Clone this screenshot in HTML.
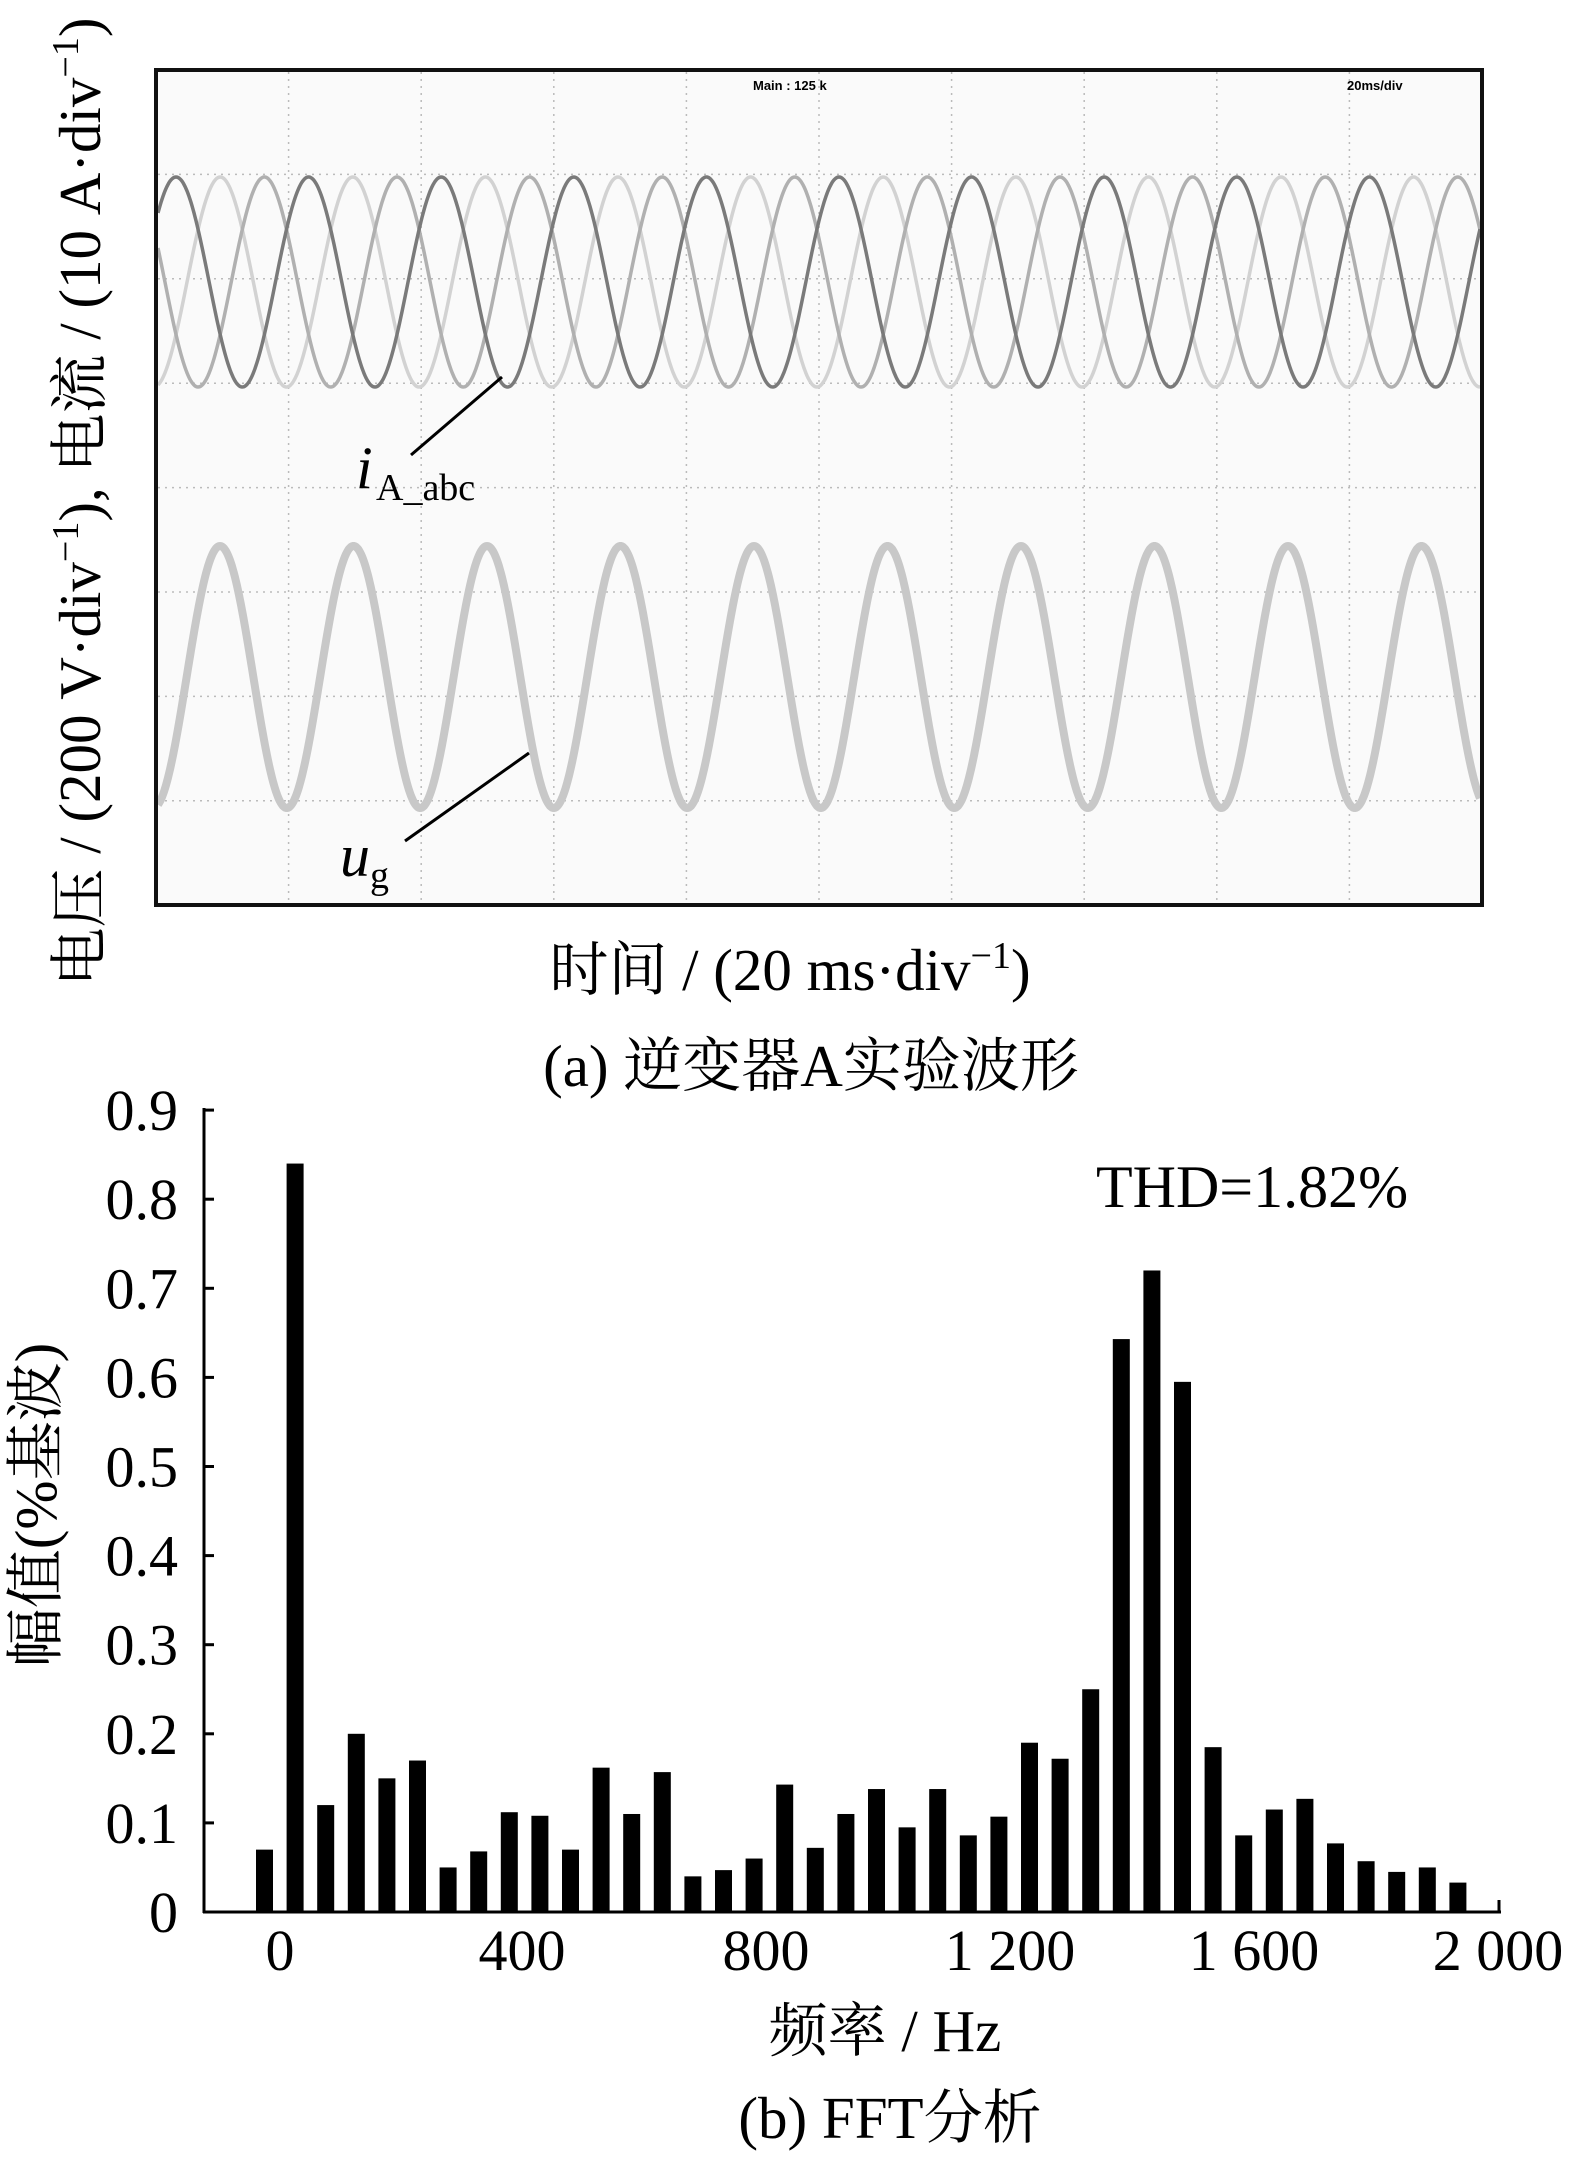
<!DOCTYPE html>
<html><head><meta charset="utf-8"><style>
html,body{margin:0;padding:0;background:#fff;}
svg{display:block;}
text{font-family:"Liberation Serif","Noto Serif CJK SC","Noto Sans CJK SC",serif;fill:#000;}
</style></head><body>
<svg id="s" width="1574" height="2162" viewBox="0 0 1574 2162" xmlns="http://www.w3.org/2000/svg">
<rect x="156" y="70" width="1326" height="835" fill="#fafafa"/>
<g id="grid" stroke="#bbb" stroke-width="1.5" stroke-dasharray="2,5"></g>
<g id="waves" fill="none"></g>
<rect x="156" y="70" width="1326" height="835" fill="none" stroke="#111" stroke-width="4"/>
<text x="753" y="90" font-size="13" font-weight="bold" style="font-family:'Liberation Sans',sans-serif">Main : 125 k</text>
<text x="1347" y="90" font-size="13" font-weight="bold" style="font-family:'Liberation Sans',sans-serif">20ms/div</text>
<line x1="411" y1="455" x2="502" y2="377" stroke="#000" stroke-width="3"/>
<text x="356" y="488" font-size="60" font-style="italic">i</text>
<text x="376" y="500" font-size="38">A_abc</text>
<line x1="405" y1="841" x2="529" y2="753" stroke="#000" stroke-width="3"/>
<text x="340" y="876" font-size="60" font-style="italic">u</text>
<text x="370" y="888" font-size="38">g</text>
<text transform="translate(100,502) rotate(-90)" text-anchor="middle" font-size="59">电压 / (200 V·div<tspan font-size="38" dy="-22">−1</tspan><tspan dy="22">), 电流 / (10 A·div</tspan><tspan font-size="38" dy="-22">−1</tspan><tspan dy="22">)</tspan></text>
<text x="790" y="990" text-anchor="middle" font-size="59">时间 / (20 ms·div<tspan font-size="38" dy="-22">−1</tspan><tspan dy="22">)</tspan></text>
<text x="811" y="1086" text-anchor="middle" font-size="59">(a)  逆变器A实验波形</text>
<g id="bars" fill="#000"></g>
<line x1="204" y1="1108" x2="204" y2="1913" stroke="#000" stroke-width="3"/>
<line x1="203" y1="1912" x2="1501" y2="1912" stroke="#000" stroke-width="3"/>
<line x1="1499" y1="1912" x2="1499" y2="1900" stroke="#000" stroke-width="3"/>
<g id="ylab" font-size="58" text-anchor="end"></g>
<g font-size="58" text-anchor="middle">
<text x="280" y="1970">0</text><text x="522" y="1970">400</text><text x="766" y="1970">800</text><text x="1010" y="1970">1 200</text><text x="1254" y="1970">1 600</text><text x="1498" y="1970">2 000</text>
</g>
<text x="1096" y="1207" font-size="60">THD=1.82%</text>
<text x="885" y="2051" text-anchor="middle" font-size="59">频率 / Hz</text>
<text x="890" y="2138" text-anchor="middle" font-size="59">(b)  FFT分析</text>
<text transform="translate(56,1505) rotate(-90)" text-anchor="middle" font-size="59">幅值(%基波)</text>
</svg>
<script>
var NS="http://www.w3.org/2000/svg";
function el(p,t,a){var e=document.createElementNS(NS,t);for(var k in a)e.setAttribute(k,a[k]);document.getElementById(p).appendChild(e);return e;}
for(var i=1;i<10;i++){var x=156+132.6*i;el("grid","line",{x1:x,y1:72,x2:x,y2:903});}
for(var j=1;j<8;j++){var y=70+104.4*j;el("grid","line",{x1:158,y1:y,x2:1480,y2:y});}
function wave(cy,amp,per,ph,col,w){var d="";for(var x=158;x<=1480;x+=1){var y=cy-amp*Math.cos(2*Math.PI*(x-ph)/per);d+=(x==158?"M":"L")+x+","+y.toFixed(1);}el("waves","path",{d:d,stroke:col,"stroke-width":w});}
wave(282,105,132.6,176+44.2,"#d2d2d2",3.5);
wave(282,105,132.6,176+88.4,"#b0b0b0",3.5);
wave(282,105,132.6,176,"#7a7a7a",3.5);
wave(677,131,133.5,220,"#c8c8c8",8);
var h=[0.07,0.84,0.12,0.20,0.15,0.17,0.05,0.068,0.112,0.108,0.07,0.162,0.11,0.157,0.04,0.047,0.06,0.143,0.072,0.11,0.138,0.095,0.138,0.086,0.107,0.19,0.172,0.25,0.643,0.72,0.595,0.185,0.086,0.115,0.127,0.077,0.057,0.045,0.05,0.033];
for(var k=0;k<h.length;k++){var c=264.5+30.6*k,hh=h[k]*891;el("bars","rect",{x:c-8.5,y:1912-hh,width:17,height:hh});}
for(var m=0;m<=9;m++){var y=1912-89.1*m;var t=el("ylab","text",{x:178,y:y+20});t.textContent=m==0?"0":"0."+m;el("bars","rect",{x:204,y:y-1.5,width:10,height:3});}
</script>
</body></html>
